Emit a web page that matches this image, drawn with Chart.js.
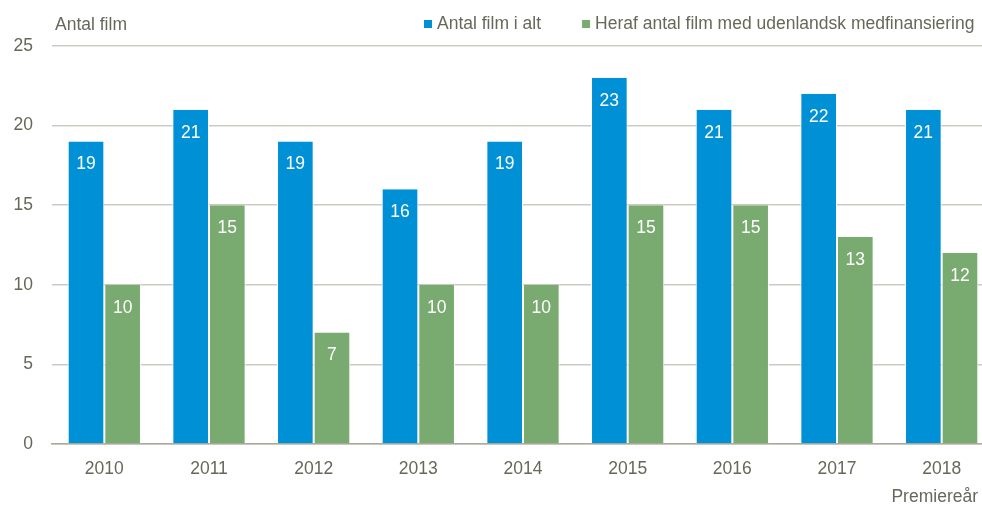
<!DOCTYPE html>
<html>
<head>
<meta charset="utf-8">
<script src="https://cdn.jsdelivr.net/npm/chart.js@4.4.1/dist/chart.umd.min.js"></script>
<style>
  html, body { margin: 0; padding: 0; background: #fff; overflow: hidden; }
  #wrap { width: 994px; height: 506px; }
</style>
</head>
<body>
<div id="wrap"><canvas id="chart" width="994" height="506"></canvas></div>
<script>
// Data
var years = ['2010', '2011', '2012', '2013', '2014', '2015', '2016', '2017', '2018'];
var totalFilms = [19, 21, 19, 16, 19, 23, 21, 22, 21];
var coFinanced = [10, 15, 7, 10, 10, 15, 15, 13, 12];
var yTicks = [0, 5, 10, 15, 20, 25];
var seriesLabels = ['Antal film i alt', 'Heraf antal film med udenlandsk medfinansiering'];
var yTitle = 'Antal film';
var xTitle = 'Premiereår';

var FONT = 'Liberation Sans, Arial, sans-serif';
var TEXT = '#67675A';
var BLUE = '#0090D6';
var GREEN = '#79AB70';

// value labels inside the top of each bar + title, legend, axis caption
var decor = {
  id: 'decor',
  afterDatasetsDraw: function (chart) {
    var ctx = chart.ctx;
    ctx.save();
    ctx.font = '17.5px ' + FONT;
    ctx.fillStyle = '#fff';
    ctx.textAlign = 'center';
    ctx.textBaseline = 'middle';
    chart.data.datasets.forEach(function (ds, i) {
      chart.getDatasetMeta(i).data.forEach(function (bar, j) {
        ctx.fillText(ds.data[j], bar.x, bar.y + 23);
      });
    });
    ctx.fillStyle = TEXT;
    ctx.textAlign = 'left';
    ctx.fillText(yTitle, 55, 25);
    // legend
    var x = 424;
    chart.data.datasets.forEach(function (ds) {
      ctx.fillStyle = ds.backgroundColor;
      ctx.fillRect(x, 20, 8, 8);
      ctx.fillStyle = TEXT;
      ctx.fillText(ds.label, x + 13, 24);
      x += 13 + ctx.measureText(ds.label).width + 41;
    });
    ctx.textAlign = 'right';
    ctx.fillText(xTitle, 978, 497);
    ctx.restore();
  }
};

new Chart(document.getElementById('chart'), {
  type: 'bar',
  data: {
    labels: years,
    datasets: [
      { label: seriesLabels[0], data: totalFilms, backgroundColor: BLUE },
      { label: seriesLabels[1], data: coFinanced, backgroundColor: GREEN }
    ]
  },
  options: {
    responsive: false,
    animation: false,
    devicePixelRatio: 1,
    layout: { padding: { top: 46, left: 12, right: 0, bottom: 19 } },
    datasets: {
      bar: {
        categoryPercentage: 0.7,
        barPercentage: 1.0,
        borderColor: '#fff',
        borderWidth: { left: 1, right: 1, top: 0, bottom: 0 },
        borderSkipped: 'bottom'
      }
    },
    plugins: {
      legend: { display: false },
      tooltip: { enabled: false }
    },
    scales: {
      x: {
        grid: { display: false },
        border: { display: true, color: '#A9A99C', width: 1.5 },
        ticks: { color: TEXT, font: { family: FONT, size: 17.5 }, padding: 7 }
      },
      y: {
        min: 0, max: 25,
        afterBuildTicks: function (axis) {
          axis.ticks = yTicks.map(function (v) { return { value: v }; });
        },
        afterFit: function (axis) { axis.width = 40; },
        grid: { color: '#CBCBC3', lineWidth: 1.5, drawTicks: false },
        border: { display: false },
        ticks: { color: TEXT, font: { family: FONT, size: 17.5 }, padding: 19 }
      }
    }
  },
  plugins: [decor]
});
</script>
</body>
</html>
